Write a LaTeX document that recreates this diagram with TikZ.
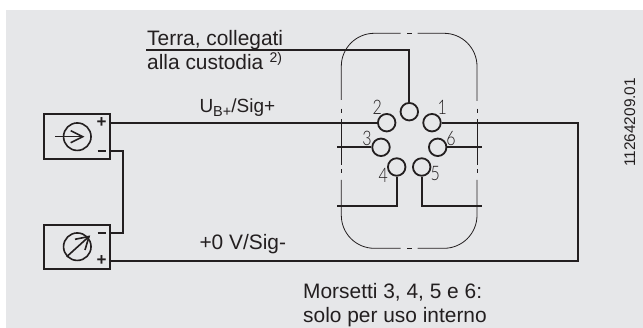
\documentclass[tikz,border=0pt]{standalone}
\usepackage{fontspec}
\setmainfont{Liberation Sans}
\newfontfamily\pinfont{Lato Light}
\definecolor{bgc}{HTML}{E6E7E9}
\definecolor{ink}{HTML}{231F20}
\newcommand{\fs}[1]{\fontsize{#1}{#1}\selectfont}
\tikzset{
  wire/.style={draw=ink,line width=1.9pt},
  outline/.style={draw=ink,line width=0.8pt},
  devbox/.style={draw=ink,line width=1.9pt,minimum width=66.5pt,minimum height=44.5pt,inner sep=0pt},
  pin/.style={circle,draw=ink,line width=1.8pt,minimum size=17.5pt,inner sep=0pt},
  dial/.style={circle,draw=ink,line width=1.6pt,minimum size=27.5pt,inner sep=0pt},
  thinwire/.style={draw=ink,line width=1.6pt},
  txt/.style={anchor=base west,inner sep=0pt,text=ink,font=\fs{20.9}},
  num/.style={inner sep=0pt,text=ink,font=\pinfont\fs{20}},
  sign/.style={inner sep=0pt,text=ink,font=\bfseries\fs{17}}
}
\begin{document}
\begin{tikzpicture}[x=1pt,y=-1pt]
\useasboundingbox (0,0) rectangle (643,328);
\fill[bgc] (6,10) rectangle (643,328);
% devices
\node[devbox] (box1) at (77,136.4) {};
\node[devbox] (box2) at (77,247) {};
\node[dial] (d1) at (77.3,136.7) {};
\node[dial] (d2) at (77.3,246.7) {};
\coordinate (a1s) at (55.3,136.7);
\coordinate (a1e) at (82.7,136.7);
\draw[thinwire] (a1s) -- (a1e);
\draw[thinwire] (70.7,130.7) -- (a1e) -- (70.7,142.7);
\coordinate (a2s) at (66.7,256.7);
\coordinate (a2e) at (89,236.5);
\draw[thinwire] (a2s) -- (a2e);
\draw[thinwire] (75,239.3) -- (a2e) -- (85,250);
% signs
\node[sign] (p1) at (101.7,122.2) {+};
\node[sign] (m1) at (101.7,150.7) {\rule{8pt}{1.9pt}};
\node[sign] (m2) at (101.7,232.7) {\rule{8pt}{1.9pt}};
\node[sign] (p2) at (101.7,260.6) {+};
% connector outline
\draw[outline,rounded corners=33pt] (341.3,100) -- (341.3,33.3) -- (400.7,33.3);
\draw[outline] (407.3,33.3) -- (411.7,33.3);
\draw[outline,rounded corners=33pt] (417.7,33.3) -- (477,33.3) -- (477,101);
\draw[outline] (341.3,108.7) -- (341.3,112.7);
\draw[outline] (341.3,119.3) -- (341.3,165);
\draw[outline] (341.3,169.3) -- (341.3,173);
\draw[outline,rounded corners=33pt] (341.3,180) -- (341.3,248.3) -- (400.7,248.3);
\draw[outline] (407.3,248.3) -- (411.7,248.3);
\draw[outline,rounded corners=33pt] (417.7,248.3) -- (477,248.3) -- (477,180);
\draw[outline] (477,108.7) -- (477,112.7);
\draw[outline] (477,119.3) -- (477,165);
\draw[outline] (477,169.3) -- (477,173);
% pins
\node[pin] (pt) at (409.3,111.7) {};
\node[pin] (p2n) at (386.7,122.7) {};
\node[pin] (p1n) at (432,122.7) {};
\node[pin] (p3n) at (381,147.3) {};
\node[pin] (p6n) at (437.7,147.3) {};
\node[pin] (p4n) at (396.7,167) {};
\node[pin] (p5n) at (421.7,167) {};
\node[num] (n2) at (377.3,107.3) {\scalebox{0.8}[1]{2}};
\node[num] (n1) at (442.3,107.3) {\scalebox{0.8}[1]{1}};
\node[num] (n3) at (367,138.7) {\scalebox{0.8}[1]{3}};
\node[num] (n6) at (451,138.7) {\scalebox{0.8}[1]{6}};
\node[num] (n4) at (383.3,175.3) {\scalebox{0.8}[1]{4}};
\node[num] (n5) at (435.3,174) {\scalebox{0.8}[1]{5}};
% wires
\coordinate (terra) at (146,50.3);
\coordinate (l3) at (337.3,147.3);
\coordinate (r6) at (481.7,147.3);
\coordinate (l4) at (337.3,206.3);
\coordinate (r5) at (481.7,206.3);
\coordinate (bus) at (578,122.7);
\coordinate (busb) at (578,260.7);
\coordinate (link) at (123,150.7);
\draw[wire] (terra) -| (pt.north);
\draw[wire] (box1.east |- p2n) -- (p2n.west);
\draw[wire] (p1n.east) -- (bus) -- (busb) -- (box2.east |- busb);
\draw[wire] (l3) -- (p3n.west);
\draw[wire] (p6n.east) -- (r6);
\draw[wire] (p4n.south) |- (l4);
\draw[wire] (p5n.south) |- (r5);
\draw[wire] (box1.east |- m1) -- (link) |- (box2.east |- m2);
% text
\node[txt] (t1) at (147,46) {Terra, collegati};
\node[txt] (t2) at (147,70) {alla custodia};
\node[anchor=base west,inner sep=0pt,text=ink,font=\fs{14}] (t2s) at (269.5,62.7) {2)};
\node[anchor=base west,inner sep=0pt,text=ink,font=\fs{19}] (ub) at (199.3,112.7) {U\raisebox{-3.5pt}{\fs{14.5}B+}/Sig+};
\node[txt] (v0) at (199.3,250) {+0 V/Sig-};
\node[txt] (m3) at (303,298.3) {Morsetti 3, 4, 5 e 6:};
\node[txt] (m4) at (303,322.3) {solo per uso interno};
\node[anchor=base west,inner sep=0pt,text=ink,font=\fs{15.4},rotate=90] (code) at (635,167) {11264209.01};
\end{tikzpicture}
\end{document}
